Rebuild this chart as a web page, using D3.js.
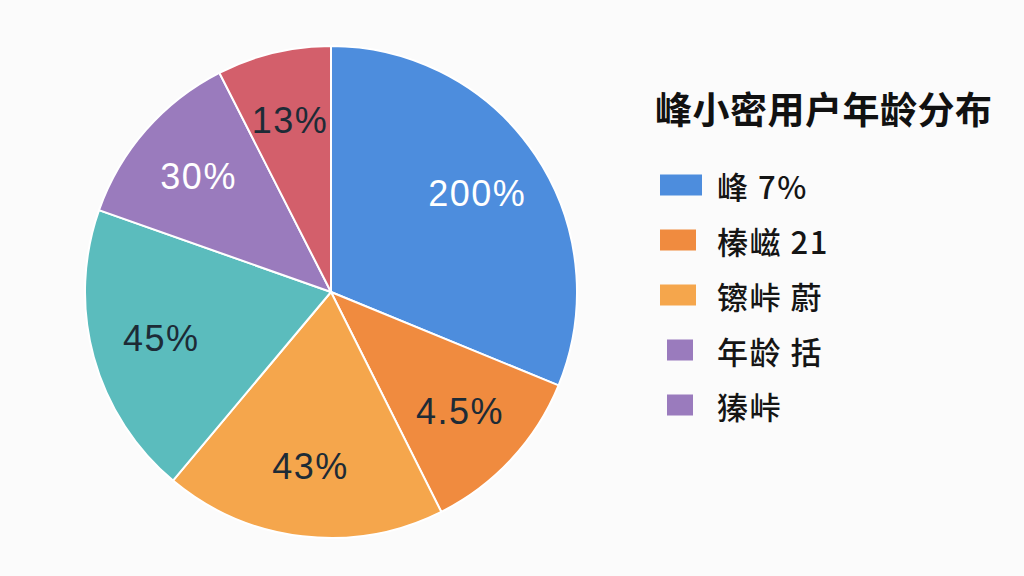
<!DOCTYPE html>
<html><head><meta charset="utf-8">
<script src="https://cdn.jsdelivr.net/npm/d3@7"></script>
<style>
html,body{margin:0;padding:0;background:#fbfbfb;}
svg{display:block;}
</style></head>
<body><svg id="c" width="1024" height="576"></svg>
<script>
// Slices clockwise from 12 o'clock
const sliceValues = [31.2, 11.4, 18.5, 19.3, 12.1, 7.5];
const sliceLabels = ["200%", "4.5%", "43%", "45%", "30%", "13%"];
const sliceColors = ["#4d8ddd", "#f08b3f", "#f5a64c", "#5bbcbd", "#9a7bbd", "#d35f6b"];
const labelColors = ["#ffffff", "#1d2b36", "#1d2b36", "#1d2b36", "#ffffff", "#1d2b36"];

const title = "峰小密用户年龄分布";
const legendNames = ["峰 7%", "榛嵫 21", "镲峠 蔚", "年龄 括", "獉峠"];
const legendColors = ["#4d8ddd", "#f08b3f", "#f5a64c", "#9a7bbd", "#9a7bbd"];
const legendSwatchW = [42, 36, 36, 26, 26];

const svg = d3.select("#c");
const cx = 331, cy = 292, R = 246;
const g = svg.append("g").attr("transform", `translate(${cx},${cy})`);
const pie = d3.pie().sort(null).value(d => d);
const arcs = pie(sliceValues);
const arc = d3.arc().innerRadius(0).outerRadius(R);
const labelArc = d3.arc().innerRadius(176).outerRadius(176);

g.selectAll("path").data(arcs).join("path")
  .attr("d", arc)
  .attr("fill", (d, i) => sliceColors[i])
  .attr("stroke", "#ffffff")
  .attr("stroke-width", 2);

g.selectAll("text").data(arcs).join("text")
  .attr("transform", d => `translate(${labelArc.centroid(d)})`)
  .attr("text-anchor", "middle")
  .attr("dominant-baseline", "central")
  .attr("font-family", "Liberation Sans, Arial, sans-serif")
  .attr("font-size", 36)
  .attr("letter-spacing", 1.5)
  .attr("fill", (d, i) => labelColors[i])
  .text((d, i) => sliceLabels[i]);

svg.append("text")
  .attr("x", 655).attr("y", 108)
  .attr("dominant-baseline", "central")
  .attr("font-family", "Noto Sans CJK SC, sans-serif")
  .attr("font-weight", "bold")
  .attr("font-size", 37)
  .attr("letter-spacing", 0.5)
  .attr("fill", "#111")
  .text(title);

const ly = d3.scalePoint().domain(d3.range(legendNames.length)).range([185, 405]);
const lg = svg.append("g");
legendNames.forEach((name, i) => {
  const w = legendSwatchW[i];
  const h = 21;
  lg.append("rect")
    .attr("x", w > 30 ? 660 : 667)
    .attr("y", ly(i) - h / 2)
    .attr("width", w).attr("height", h)
    .attr("fill", legendColors[i]);
  lg.append("text")
    .attr("x", 717).attr("y", ly(i))
    .attr("dominant-baseline", "central")
    .attr("font-family", "Noto Sans CJK SC, sans-serif")
    .attr("font-weight", 500)
    .attr("font-size", 31)
    .attr("letter-spacing", 1.5)
    .attr("fill", "#151515")
    .text(name);
});
</script></body></html>
